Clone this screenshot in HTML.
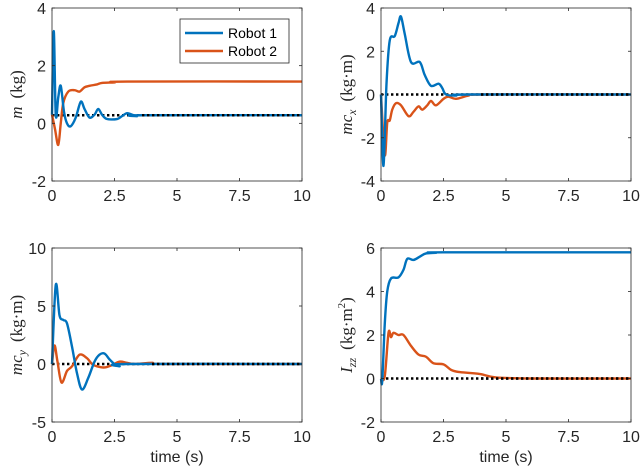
<!DOCTYPE html>
<html><head><meta charset="utf-8"><style>
body{margin:0;background:#fff;}
svg{display:block;font-family:"Liberation Sans",sans-serif;}
</style></head><body>
<svg id="fig" width="640" height="474" viewBox="0 0 640 474"></svg>
<script>
const xTicks=[0,2.5,5,7.5,10];
const xTickLabels=["0","2.5","5","7.5","10"];
// panel 1: m (kg)
const p1T1=[0,0.07,0.15,0.25,0.35,0.48,0.6,0.75,0.95,1.15,1.3,1.5,1.7,1.85,2.0,2.2,2.6,2.8,3.0,3.2,3.4,3.6,10];
const p1V1=[0.3,3.2,0.3,0.9,1.3,0.4,0.0,-0.1,0.2,0.75,0.5,0.2,0.3,0.5,0.3,0.15,0.15,0.25,0.35,0.3,0.25,0.28,0.28];
const p1T2=[0,0.12,0.25,0.35,0.45,0.65,0.9,1.1,1.3,1.5,1.8,2.0,2.5,3.0,10];
const p1V2=[0.3,-0.2,-0.75,0.0,0.7,1.1,1.15,1.1,1.25,1.3,1.35,1.4,1.42,1.45,1.45];
const p1Ref=0.28;
// panel 2: mc_x
const p2T1=[0,0.1,0.22,0.35,0.55,0.7,0.8,0.95,1.2,1.55,1.75,2.0,2.3,2.45,2.6,3.0,3.5,10];
const p2V1=[0,-3.3,0.5,2.5,2.7,3.3,3.6,2.8,1.5,1.5,0.9,0.4,0.5,0.3,0.0,-0.05,0,0];
const p2T2=[0,0.15,0.25,0.35,0.45,0.6,0.8,1.1,1.3,1.5,1.65,1.85,2.0,2.2,2.5,2.7,3.0,3.5,4.0,10];
const p2V2=[0,-2.8,-1.3,-1.2,-0.7,-0.4,-0.5,-1.0,-0.8,-0.55,-0.7,-0.5,-0.3,-0.5,-0.2,-0.1,-0.2,-0.05,0,0];
const p2Ref=0;
// panel 3: mc_y
const p3T1=[0,0.15,0.3,0.45,0.6,0.8,1.0,1.2,1.45,1.7,1.9,2.1,2.3,2.5,2.7,3.0,10];
const p3V1=[0,6.8,4.2,3.8,3.5,1.5,-0.8,-2.2,-1.2,0.2,0.8,0.9,0.4,0,-0.2,0,0];
const p3T2=[0,0.1,0.22,0.38,0.6,0.8,1.1,1.4,1.6,1.8,2.1,2.4,2.7,3.0,3.3,4.0,4.5,10];
const p3V2=[0,1.6,0.2,-1.6,-0.6,-0.2,0.8,0.5,0,-0.2,-0.3,-0.1,0.2,0.1,0,0.1,0,0];
const p3Ref=0;
// panel 4: I_zz
const p4T1=[0,0.05,0.15,0.25,0.4,0.7,0.9,1.05,1.3,1.55,1.8,2.2,2.5,10];
const p4V1=[0,-0.1,2.5,4.0,4.6,4.65,5.0,5.5,5.45,5.6,5.75,5.78,5.8,5.8];
const p4T2=[0,0.15,0.3,0.4,0.5,0.7,0.9,1.2,1.5,1.8,2.1,2.5,2.8,3.1,3.6,4.0,4.6,6.0,10];
const p4V2=[0,0.1,2.1,1.9,2.1,2.0,2.0,1.5,1.1,1.0,0.7,0.65,0.4,0.3,0.25,0.2,0.05,0,0];
const p4Ref=0;

const NS="http://www.w3.org/2000/svg";
const svg=document.getElementById('fig');
function mk(tag,attrs,parent){const e=document.createElementNS(NS,tag);for(const k in attrs)e.setAttribute(k,attrs[k]);(parent||svg).appendChild(e);return e;}
function smooth(pts){let d="M"+pts[0][0]+","+pts[0][1];for(let i=0;i<pts.length-1;i++){const p0=pts[Math.max(0,i-1)],p1=pts[i],p2=pts[i+1],p3=pts[Math.min(pts.length-1,i+2)];
const c1=[p1[0]+(p2[0]-p0[0])/6,p1[1]+(p2[1]-p0[1])/6],c2=[p2[0]-(p3[0]-p1[0])/6,p2[1]-(p3[1]-p1[1])/6];
d+=" C"+c1[0].toFixed(2)+","+c1[1].toFixed(2)+" "+c2[0].toFixed(2)+","+c2[1].toFixed(2)+" "+p2[0].toFixed(2)+","+p2[1].toFixed(2);}return d;}

function panel(cfg){
  const g=mk('g',{});
  
  
  const {x0,x1,y0,y1,ymin,ymax}=cfg;
  const sx=v=>x0+(v-0)/(10-0)*(x1-x0);
  const sy=v=>y1-(v-ymin)/(ymax-ymin)*(y1-y0);
  const bg=mk('rect',{x:x0,y:y0,width:x1-x0,height:y1-y0,fill:'#fff'},g);
  
  
  const ref=mk('line',{x1:sx(0),x2:sx(10),y1:sy(cfg.ref),y2:sy(cfg.ref),stroke:'#000','stroke-width':2.4,'stroke-dasharray':'2.4,2.6'},g);
  
  
  const s2=mk('path',{d:smooth(cfg.t2.map((t,i)=>[sx(t),sy(cfg.v2[i])])),fill:'none',stroke:'#D95319','stroke-width':2.4,'stroke-linejoin':'round'},g);
  
  
  const s1=mk('path',{d:smooth(cfg.t1.map((t,i)=>[sx(t),sy(cfg.v1[i])])),fill:'none',stroke:'#0072BD','stroke-width':2.4,'stroke-linejoin':'round'},g);
  
  
  mk('line',{x1:sx(cfg.ref!==0?3.6:4),x2:sx(10),y1:sy(cfg.ref),y2:sy(cfg.ref),stroke:'#000','stroke-width':2.4,'stroke-dasharray':'2.4,2.6'},g);
  const box=mk('rect',{x:x0,y:y0,width:x1-x0,height:y1-y0,fill:'none',stroke:'#262626','stroke-width':0.8},g);
  
  
  xTicks.forEach((t,i)=>{
    mk('line',{x1:sx(t),x2:sx(t),y1:y1,y2:y1-3,stroke:'#262626','stroke-width':0.8},g);
    mk('line',{x1:sx(t),x2:sx(t),y1:y0,y2:y0+3,stroke:'#262626','stroke-width':0.8},g);
    const tl=mk('text',{x:sx(t),y:y1+20,'text-anchor':'middle','font-size':16,fill:'#262626'},g);
    tl.textContent=xTickLabels[i];
    
    
  });
  cfg.yTicks.forEach(v=>{
    mk('line',{x1:x0,x2:x0+3,y1:sy(v),y2:sy(v),stroke:'#262626','stroke-width':0.8},g);
    mk('line',{x1:x1,x2:x1-3,y1:sy(v),y2:sy(v),stroke:'#262626','stroke-width':0.8},g);
    const tl=mk('text',{x:x0-6,y:sy(v)+6,'text-anchor':'end','font-size':16,fill:'#262626'},g);
    tl.textContent=String(v);
    
    
  });
  const yl=mk('text',{transform:`translate(${cfg.ylx},${(y0+y1)/2}) rotate(-90)`,'text-anchor':'middle','font-size':17,fill:'#262626','font-family':'"Liberation Serif",serif'},g);
  yl.innerHTML=cfg.ylabel;
  
  
  if(cfg.xlabel){
    const xl=mk('text',{x:(x0+x1)/2,y:y1+40,'text-anchor':'middle','font-size':16,fill:'#262626'},g);
    xl.textContent='time (s)';
    
    
  }
  return {g,sx,sy};
}
panel({name:'panel-m',x0:52,x1:302,y0:8,y1:181,ymin:-2,ymax:4,yTicks:[-2,0,2,4],t1:p1T1,v1:p1V1,t2:p1T2,v2:p1V2,ref:p1Ref,ylx:22,
 ylabel:'<tspan font-style="italic">m</tspan><tspan dx="8">(kg)</tspan>'});
panel({name:'panel-mcx',x0:381,x1:631,y0:8,y1:181,ymin:-4,ymax:4,yTicks:[-4,-2,0,2,4],t1:p2T1,v1:p2V1,t2:p2T2,v2:p2V2,ref:p2Ref,ylx:352,
 ylabel:'<tspan font-style="italic">mc</tspan><tspan font-style="italic" font-size="12" dy="4">x</tspan><tspan dy="-4" dx="8">(kg·m)</tspan>'});
panel({name:'panel-mcy',x0:52,x1:302,y0:248,y1:422,ymin:-5,ymax:10,yTicks:[-5,0,5,10],t1:p3T1,v1:p3V1,t2:p3T2,v2:p3V2,ref:p3Ref,ylx:22,xlabel:true,
 ylabel:'<tspan font-style="italic">mc</tspan><tspan font-style="italic" font-size="12" dy="4">y</tspan><tspan dy="-4" dx="8">(kg·m)</tspan>'});
panel({name:'panel-izz',x0:381,x1:631,y0:248,y1:422,ymin:-2,ymax:6,yTicks:[-2,0,2,4,6],t1:p4T1,v1:p4V1,t2:p4T2,v2:p4V2,ref:p4Ref,ylx:352,xlabel:true,
 ylabel:'<tspan font-style="italic">I</tspan><tspan font-style="italic" font-size="12" dy="4">zz</tspan><tspan dy="-4" dx="8">(kg·m</tspan><tspan font-size="11" dy="-7">2</tspan><tspan dy="7">)</tspan>'});
const lg=mk('g',{});


mk('rect',{x:180,y:19,width:109,height:44,fill:'#fff',stroke:'#262626','stroke-width':0.8},lg);
mk('line',{x1:185,x2:223,y1:33,y2:33,stroke:'#0072BD','stroke-width':2.4},lg);
mk('line',{x1:185,x2:223,y1:51,y2:51,stroke:'#D95319','stroke-width':2.4},lg);
const l1=mk('text',{x:228,y:38,'font-size':14,fill:'#000'},lg);l1.textContent='Robot 1';


const l2=mk('text',{x:228,y:56,'font-size':14,fill:'#000'},lg);l2.textContent='Robot 2';


</script>
</body></html>
